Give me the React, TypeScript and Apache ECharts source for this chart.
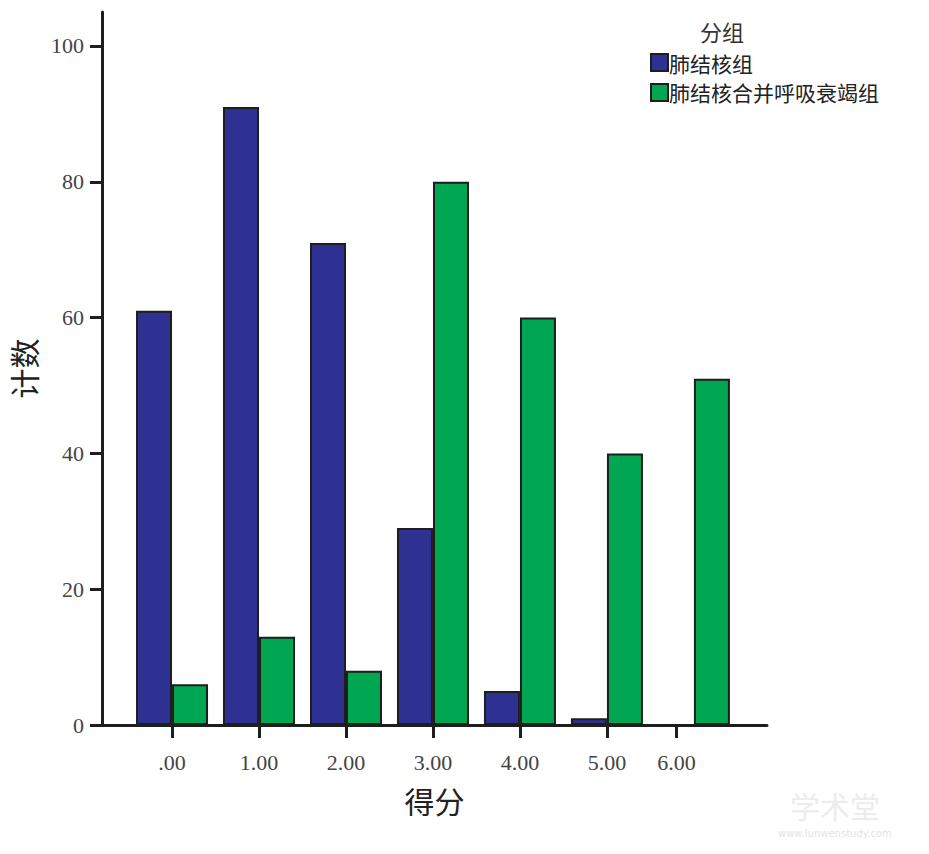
import React, { useEffect, useRef } from "react";
import * as echarts from "echarts";

const categories = [".00", "1.00", "2.00", "3.00", "4.00", "5.00", "6.00"];
const tickPositions = [0, 1, 2, 3, 4, 5, 5.8];
const seriesNames = ["肺结核组", "肺结核合并呼吸衰竭组"];
const tbValues = [61, 91, 71, 29, 5, 1, 0];
const tbRespValues = [6, 13, 8, 80, 60, 40, 51];
const yTicks = [0, 20, 40, 60, 80, 100];
const colors = ["#2E3192", "#00A651"];

const serif = "'Liberation Serif', 'Times New Roman', serif";
const cjk = "'Noto Sans CJK SC', sans-serif";

export default function App() {
  const ref = useRef<HTMLDivElement>(null);
  useEffect(() => {
    document.body.style.margin = "0";
    const chart = echarts.init(ref.current!, null, { renderer: "svg" });
    const barStyle = (c: string) => ({ color: c, borderColor: "#1e1e1e", borderWidth: 2 });
    chart.setOption({
      animation: false,
      backgroundColor: "#ffffff",
      title: {
        text: "分组",
        left: 722,
        top: 18,
        padding: 0,
        textAlign: "center",
        textStyle: { fontFamily: cjk, fontSize: 22, fontWeight: "normal", color: "#333", lineHeight: 26 },
      },
      legend: {
        orient: "vertical",
        left: 650,
        top: 52,
        itemWidth: 17,
        itemHeight: 17,
        itemGap: 9,
        padding: 0,
        icon: "rect",
        textStyle: { fontFamily: cjk, fontSize: 21, lineHeight: 20, color: "#222", padding: [0, 0, 0, -4] },
        data: seriesNames,
      },
      grid: { left: 102, right: 162, top: 12, bottom: 129, containLabel: false },
      xAxis: {
        type: "value",
        min: -0.805,
        max: 6.84,
        name: "得分",
        nameLocation: "middle",
        nameGap: 60,
        nameTextStyle: { fontFamily: cjk, fontSize: 30, color: "#222" },
        splitLine: { show: false },
        axisLine: { show: true, onZero: false, lineStyle: { color: "#1e1e1e", width: 3 } },
        axisTick: {
          show: true,
          length: 13,
          customValues: tickPositions,
          lineStyle: { color: "#1e1e1e", width: 3 },
        },
        axisLabel: {
          customValues: tickPositions,
          margin: 26,
          fontFamily: serif,
          fontSize: 22,
          color: "#444",
          formatter: (v: number) => {
            const i = tickPositions.findIndex((t) => Math.abs(t - v) < 1e-6);
            return i >= 0 ? categories[i] : "";
          },
        },
      },
      yAxis: {
        type: "value",
        min: 0,
        max: 105,
        name: "计数",
        nameLocation: "middle",
        nameGap: 64,
        nameRotate: 90,
        nameTextStyle: { fontFamily: cjk, fontSize: 30, color: "#222" },
        splitLine: { show: false },
        axisLine: { show: true, onZero: false, lineStyle: { color: "#1e1e1e", width: 3 } },
        axisTick: {
          show: true,
          length: 12,
          customValues: yTicks,
          lineStyle: { color: "#1e1e1e", width: 3 },
        },
        axisLabel: {
          customValues: yTicks,
          margin: 18,
          fontFamily: serif,
          fontSize: 22,
          color: "#444",
        },
      },
      graphic: [
        {
          type: "text",
          left: 790,
          top: 790,
          style: { text: "学术堂", fontFamily: cjk, fontSize: 30, fill: "#ececec" },
        },
        {
          type: "text",
          left: 778,
          top: 828,
          style: { text: "www.lunwenstudy.com", fontFamily: "'DejaVu Sans', sans-serif", fontSize: 10, fill: "#e4e4e4" },
        },
      ],
      series: [
        {
          name: seriesNames[0],
          type: "bar",
          barWidth: 36,
          barGap: "0%",
          itemStyle: barStyle(colors[0]),
          data: tbValues.map((v, i) => [i, v]),
        },
        {
          name: seriesNames[1],
          type: "bar",
          barWidth: 36,
          barGap: "0%",
          itemStyle: barStyle(colors[1]),
          data: tbRespValues.map((v, i) => [i, v]),
        },
      ],
    });
    return () => chart.dispose();
  }, []);
  return <div ref={ref} style={{ width: 929, height: 854 }} />;
}
